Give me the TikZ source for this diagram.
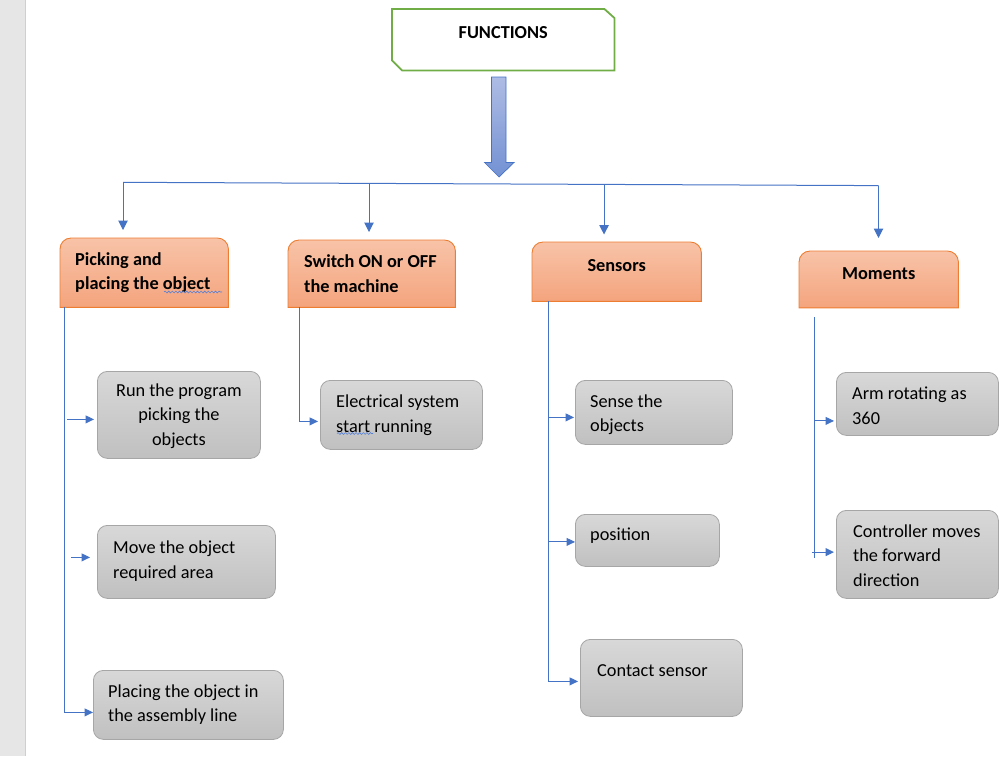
\documentclass[tikz,border=0pt]{standalone}
\usepackage{fontspec}
\setmainfont{Carlito}
\usetikzlibrary{arrows.meta,calc,decorations.pathmorphing}
\definecolor{lineblue}{HTML}{4472C4}
\definecolor{wavyblue}{HTML}{5580D6}
\definecolor{orangeb}{HTML}{ED7D31}
\definecolor{otop}{HTML}{F8C3A8}
\definecolor{obot}{HTML}{F4A47D}
\definecolor{gtop}{HTML}{D8D8D8}
\definecolor{gbot}{HTML}{C0C0C0}
\definecolor{gborder}{HTML}{A6A6A6}
\definecolor{fgreen}{HTML}{70AD47}
\definecolor{atop}{HTML}{AEBCE4}
\definecolor{abot}{HTML}{7391D3}
\definecolor{stripgray}{HTML}{E6E6E6}
\definecolor{stripline}{HTML}{CFCFCF}
\newcommand{\topround}[1]{\path[obox] (#1.south west) -- ($(#1.north west)+(0,11)$) arc[start angle=180,end angle=270,radius=11] -- ($(#1.north east)+(-11,0)$) arc[start angle=270,end angle=360,radius=11] -- (#1.south east) -- cycle;}
\begin{document}
\begin{tikzpicture}[x=1pt,y=-1pt,
  gtext/.style={font=\fontsize{18.3}{24.5}\selectfont, inner sep=0pt, align=left, text=black},
  htext/.style={font=\fontsize{18.3}{24.5}\selectfont\bfseries, inner sep=0pt, align=left, text=black},
  oneline/.style={text height=6pt, text depth=6pt},
  frame/.style={anchor=north west, inner sep=0pt},
  gbox/.style={frame, draw=gborder, line width=0.8pt, rounded corners=10pt, top color=gtop, bottom color=gbot},
  obox/.style={draw=orangeb, line width=0.9pt, top color=otop, bottom color=obot},
  conn/.style={draw=lineblue, line width=1pt},
  arr/.style={conn, -{Triangle[width=9.5pt,length=9.5pt]}},
  barr/.style={conn, -{Triangle[width=8pt,length=8.5pt]}},
  wavy/.style={draw=wavyblue, line width=0.6pt, decorate, decoration={snake, amplitude=0.9pt, segment length=3.6pt}},
]
\useasboundingbox (0,0) rectangle (1008,756);
\fill[stripgray] (0,0) rectangle (25,756);
\draw[stripline, line width=1pt] (25.5,0) -- (25.5,756);

% FUNCTIONS box
\node[frame, minimum width=222pt, minimum height=61pt] (func) at (392,9) {};
\draw[fgreen, line width=1.8pt] (func.north west) -- ($(func.north east)+(-10,0)$) -- ($(func.north east)+(0,9)$) -- (func.south east) -- ($(func.south west)+(10,0)$) -- ($(func.south west)+(0,-10)$) -- cycle;
\node[htext, oneline] (funcT) at ($(func.center)+(0,-1.5)$) {FUNCTIONS};

% block arrow
\shade[top color=atop, bottom color=abot, draw=lineblue, line width=0.7pt]
  (491.5,77) -- (506,77) -- (506,162.5) -- (514,162.5) -- (499,177) -- (484.5,162.5) -- (491.5,162.5) -- cycle;

% headings
\node[frame, minimum width=168pt, minimum height=69pt] (pick) at (60,238) {};
\topround{pick}
\node[htext, anchor=west] (pickT) at ($(pick.west)+(15,0)$) {Picking and\\placing the object};

\node[frame, minimum width=167pt, minimum height=67pt] (switch) at (288,240) {};
\topround{switch}
\node[htext, anchor=west] (switchT) at ($(switch.west)+(16,0)$) {Switch ON or OFF\\the machine};

\node[frame, minimum width=169pt, minimum height=59pt] (sens) at (532,242) {};
\topround{sens}
\node[htext, oneline] (sensT) at (sens.center) {Sensors};

\node[frame, minimum width=159pt, minimum height=56.5pt] (mom) at (799,251) {};
\topround{mom}
\node[htext, oneline] (momT) at (mom.center) {Moments};

% gray boxes
\node[gbox, minimum width=163pt, minimum height=87pt] (run) at (97,371) {};
\node[gtext, align=center] (runT) at ($(run.center)+(0,1)$) {Run the program\\picking the\\objects};
\node[gbox, minimum width=178pt, minimum height=73pt] (move) at (97,525) {};
\node[gtext, anchor=west] (moveT) at ($(move.west)+(16,-1)$) {Move the object\\required area};
\node[gbox, minimum width=190pt, minimum height=69pt] (place) at (93,670) {};
\node[gtext, anchor=west] (placeT) at ($(place.west)+(15,-0.5)$) {Placing the object in\\the assembly line};

\node[gbox, minimum width=162pt, minimum height=69pt] (elec) at (320,380) {};
\node[gtext, anchor=west] (elecT) at ($(elec.west)+(16,0.5)$) {Electrical system\\start running};

\node[gbox, minimum width=157pt, minimum height=64pt] (sense) at (575,380) {};
\node[gtext, anchor=west] (senseT) at ($(sense.west)+(15,2.5)$) {Sense the\\objects};
\node[gbox, minimum width=144pt, minimum height=52pt] (pos) at (575,514) {};
\node[gtext, oneline, anchor=west] (posT) at ($(pos.west)+(15,0)$) {position};
\node[gbox, minimum width=162pt, minimum height=77pt] (contact) at (580,639) {};
\node[gtext, oneline, anchor=west] (contactT) at ($(contact.west)+(17,-1)$) {Contact sensor};

\node[gbox, minimum width=162pt, minimum height=63pt] (arm) at (836,372) {};
\node[gtext, anchor=west] (armT) at ($(arm.west)+(16,2)$) {Arm rotating as\\360};
\node[gbox, minimum width=162pt, minimum height=88pt] (ctrl) at (836,510) {};
\node[gtext, anchor=west] (ctrlT) at ($(ctrl.west)+(17,1)$) {Controller moves\\the forward\\direction};

% bus and top arrows
\coordinate (busL) at (123,182.3);
\coordinate (busR) at (878.5,185.6);
\coordinate (b2) at ($(busL)!0.3256!(busR)$);
\coordinate (b3) at ($(busL)!0.6367!(busR)$);
\coordinate (t1) at (123,230);
\coordinate (t2) at (369,232);
\coordinate (t3) at (604,234.5);
\coordinate (t4) at (878.5,238);
\draw[conn] (busL) -- (busR);
\draw[arr] (busL) -- (t1);
\draw[arr] (b2) -- (b2 |- t2);
\draw[arr] (b3) -- (b3 |- t3);
\draw[arr] (busR) -- (t4);

% picking branches
\draw[barr] ($(pick.south west)+(4.5,0)$) |- ($(place.west)+(0,7.5)$);
\draw[barr] ($(run.west)+(-30,4.5)$) -- ($(run.west)+(-3,4.5)$);
\draw[barr] ($(move.west)+(-26,-4.5)$) -- ($(move.west)+(-7,-4.5)$);

% switch branch
\draw[barr] ($(switch.south west)+(11.5,0)$) |- ($(elec.west)+(-2,6.5)$);

% sensors branches
\draw[barr] ($(sens.south west)+(16,0)$) |- ($(contact.west)+(-2,3.5)$);
\draw[barr] ($(sense.west)+(-26,5)$) -- ($(sense.west)+(-1,5)$);
\draw[barr] ($(pos.west)+(-27,1.5)$) -- ($(pos.west)+(0,1.5)$);

% moments branches
\draw[conn] ($(mom.south west)+(15.5,9)$) -- ($(mom.south west)+(15.5,250)$);
\draw[barr] ($(arm.west)+(-22,17)$) -- ($(arm.west)+(-2,17)$);
\draw[barr] ($(ctrl.west)+(-24,-2.3)$) -- ($(ctrl.west)+(-2,-2.3)$);

% spell-check underlines
\draw[wavy] (164,292) -- (222,292);
\draw[wavy] (337,433.5) -- (373,433.5);
\end{tikzpicture}
\end{document}
